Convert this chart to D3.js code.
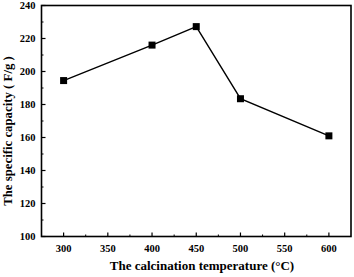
<!DOCTYPE html>
<html>
<head>
<meta charset="utf-8">
<script src="https://cdn.jsdelivr.net/npm/d3@7"></script>
<style>
  body { margin: 0; background: #fff; }
  svg text { font-family: "Liberation Serif", "Times New Roman", serif; font-weight: bold; fill: #000; }
</style>
</head>
<body>
<svg id="chart"></svg>
<script>
// Calcination temperature (°C) vs specific capacity (F/g)
var temps = [300, 400, 450, 500, 600];
var capacity = [194.5, 216, 227.2, 183.5, 161];
var xTicks = [300, 350, 400, 450, 500, 550, 600];
var yTicks = [100, 120, 140, 160, 180, 200, 220, 240];

var width = 354,
  height = 277,
  margin = { top: 5.5, right: 3, bottom: 40.5, left: 41.5 };

var svg = d3.select("#chart").attr("width", width).attr("height", height);

var x = d3.scaleLinear().domain([275, 625]).range([margin.left, width - margin.right]);
var y = d3.scaleLinear().domain([100, 240]).range([height - margin.bottom, margin.top]);

var g = svg.append("g");

// minor ticks
var xMinor = d3.range(325, 625, 50);
var yMinor = d3.range(110, 240, 20);

g.selectAll(".xminor")
  .data(xMinor)
  .enter()
  .append("line")
  .attr("x1", function(d) { return x(d); })
  .attr("x2", function(d) { return x(d); })
  .attr("y1", y(100))
  .attr("y2", y(100) - 2)
  .attr("stroke", "#000")
  .attr("stroke-width", 1);

g.selectAll(".xmajor")
  .data(xTicks)
  .enter()
  .append("line")
  .attr("x1", function(d) { return x(d); })
  .attr("x2", function(d) { return x(d); })
  .attr("y1", y(100))
  .attr("y2", y(100) - 4)
  .attr("stroke", "#000")
  .attr("stroke-width", 1.2);

g.selectAll(".yminor")
  .data(yMinor)
  .enter()
  .append("line")
  .attr("x1", x(275))
  .attr("x2", x(275) + 2)
  .attr("y1", function(d) { return y(d); })
  .attr("y2", function(d) { return y(d); })
  .attr("stroke", "#000")
  .attr("stroke-width", 1);

g.selectAll(".ymajor")
  .data(yTicks)
  .enter()
  .append("line")
  .attr("x1", x(275))
  .attr("x2", x(275) + 4)
  .attr("y1", function(d) { return y(d); })
  .attr("y2", function(d) { return y(d); })
  .attr("stroke", "#000")
  .attr("stroke-width", 1.2);

// frame
g.append("rect")
  .attr("x", x(275))
  .attr("y", y(240))
  .attr("width", x(625) - x(275))
  .attr("height", y(100) - y(240))
  .attr("fill", "none")
  .attr("stroke", "#000")
  .attr("stroke-width", 1.6);

// tick labels
g.selectAll(".xlab")
  .data(xTicks)
  .enter()
  .append("text")
  .attr("x", function(d) { return x(d); })
  .attr("y", y(100) + 15.5)
  .attr("text-anchor", "middle")
  .style("font-size", "10.5px")
  .text(function(d) { return d; });

g.selectAll(".ylab")
  .data(yTicks)
  .enter()
  .append("text")
  .attr("x", x(275) - 6)
  .attr("y", function(d) { return y(d) + 3.7; })
  .attr("text-anchor", "end")
  .style("font-size", "10.5px")
  .text(function(d) { return d; });

// axis titles
svg.append("text")
  .attr("x", 202)
  .attr("y", 270)
  .attr("text-anchor", "middle")
  .style("font-size", "13px")
  .text("The calcination temperature (\u00B0C)");

svg.append("text")
  .attr("transform", "translate(11.5,131) rotate(-90)")
  .attr("text-anchor", "middle")
  .style("font-size", "12.8px")
  .text("The specific capacity ( F/g )");

// series
var pts = temps.map(function(t, i) { return [t, capacity[i]]; });

var line = d3.line()
  .x(function(d) { return x(d[0]); })
  .y(function(d) { return y(d[1]); });

g.append("path")
  .datum(pts)
  .attr("d", line)
  .attr("fill", "none")
  .attr("stroke", "#000")
  .attr("stroke-width", 1.4);

g.selectAll(".pt")
  .data(pts)
  .enter()
  .append("rect")
  .attr("x", function(d) { return x(d[0]) - 3.5; })
  .attr("y", function(d) { return y(d[1]) - 3.5; })
  .attr("width", 7)
  .attr("height", 7)
  .attr("fill", "#000");
</script>
</body>
</html>
